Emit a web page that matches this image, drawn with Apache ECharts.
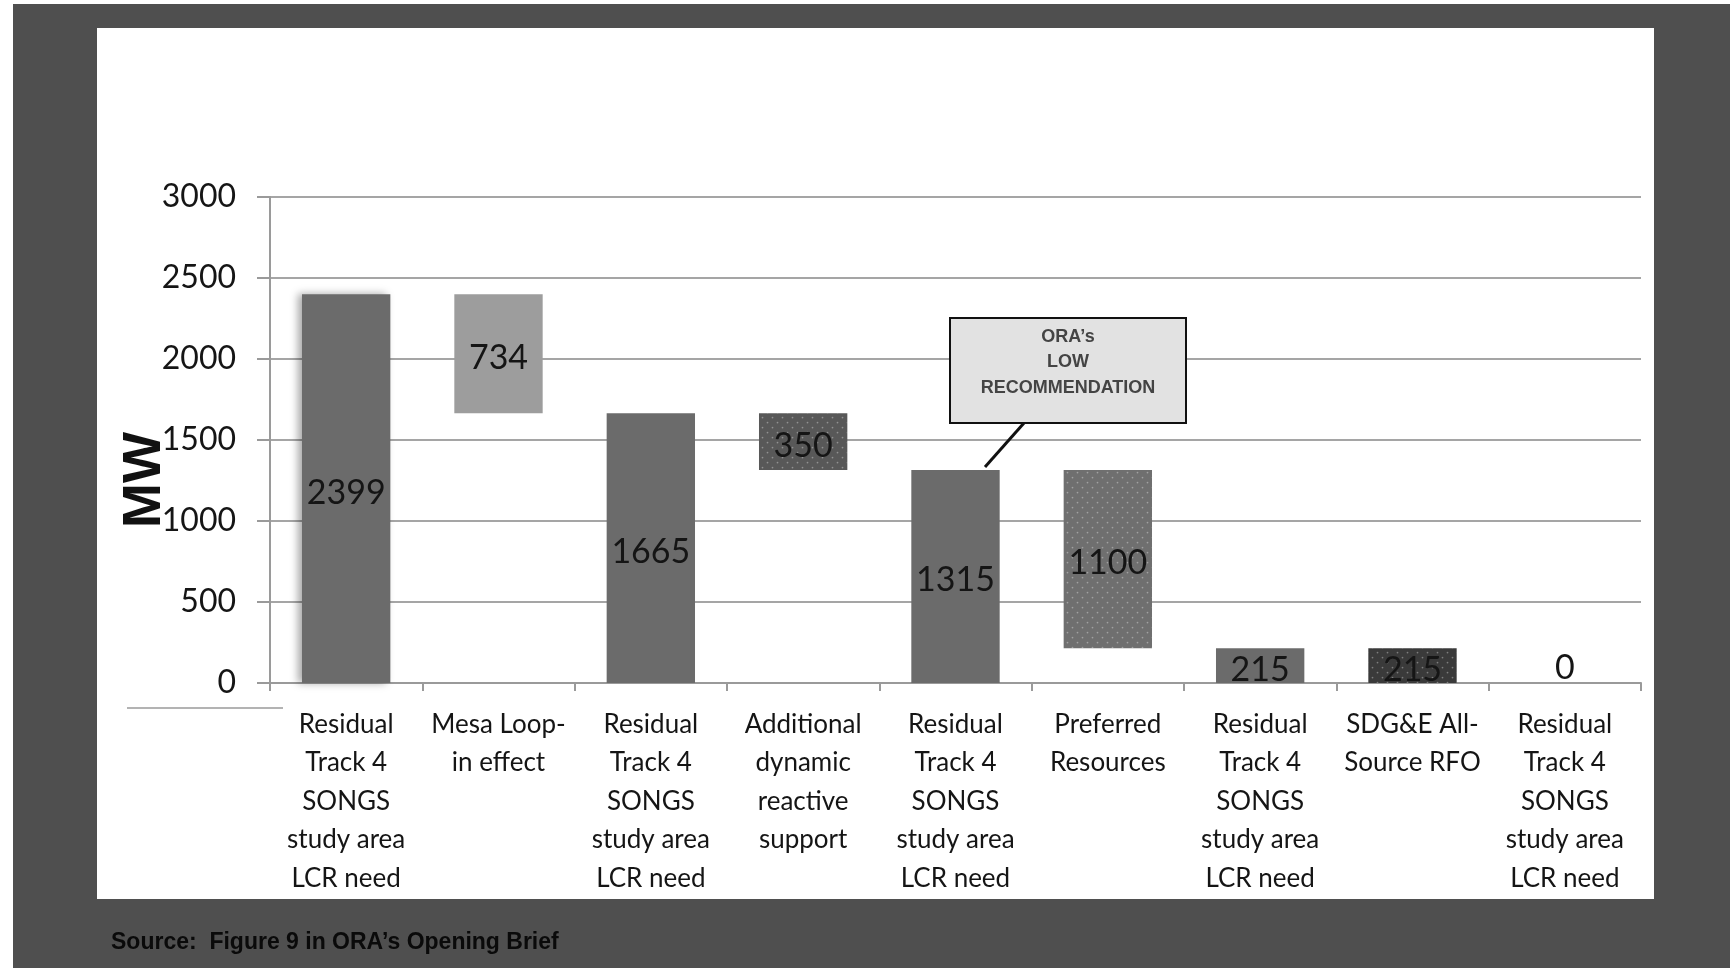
<!DOCTYPE html>
<html>
<head>
<meta charset="utf-8">
<script src="https://cdn.jsdelivr.net/npm/echarts@6/dist/echarts.min.js"></script>
<style>
  html, body { margin:0; padding:0; width:1730px; height:968px; overflow:hidden; background:#ffffff; }
  #bg { position:absolute; left:13px; top:4px; width:1717px; height:964px; background:#4f4f4f; }
  #panel { position:absolute; left:97px; top:28px; width:1557px; height:871px; background:#ffffff; }
  #chart { position:absolute; left:0; top:0; width:1730px; height:968px; }
</style>
</head>
<body>
<div id="bg"></div>
<div id="panel"></div>
<div id="chart"></div>
<script>
// ---- data ----
const categories = [
  "Residual\nTrack 4\nSONGS\nstudy area\nLCR need",
  "Mesa Loop-\nin effect",
  "Residual\nTrack 4\nSONGS\nstudy area\nLCR need",
  "Additional\ndynamic\nreactive\nsupport",
  "Residual\nTrack 4\nSONGS\nstudy area\nLCR need",
  "Preferred\nResources",
  "Residual\nTrack 4\nSONGS\nstudy area\nLCR need",
  "SDG&E All-\nSource RFO",
  "Residual\nTrack 4\nSONGS\nstudy area\nLCR need"
];
const values = [2399, 734, 1665, 350, 1315, 1100, 215, 215, 0];
const bases  = [0, 1665, 0, 1315, 0, 215, 0, 0, 0];
const yTicks = [0, 500, 1000, 1500, 2000, 2500, 3000];
const axisTitle = "MW";
const calloutLines = ["ORA\u2019s", "LOW", "RECOMMENDATION"];
const sourceText = "Source:  Figure 9 in ORA\u2019s Opening Brief";

// ---- styles ----
const barColors = ['#6b6b6b', '#9d9d9d', '#6b6b6b', '#585858', '#6b6b6b', '#6f6f6f', '#6b6b6b', '#3a3a3a', '#6b6b6b'];
const dotted = [false, false, false, true, false, true, false, true, false];

const chart = echarts.init(document.getElementById('chart'), null, {renderer: 'canvas'});

const valueData = values.map((v, i) => {
  const item = {
    value: v,
    itemStyle: { color: barColors[i] },
    label: v === 0 ? { position: 'top', distance: -2, offset: [0, 0] } : { position: 'inside', offset: [0, 4] }
  };
  if (dotted[i]) {
    item.itemStyle.decal = {
      symbol: 'circle', symbolSize: 0.35,
      color: 'rgba(255,255,255,0.35)',
      dashArrayX: [[5, 5], [0, 5, 5, 0]], dashArrayY: [5, 0], rotation: 0
    };
  }
  if (i === 0) {
    item.itemStyle.shadowColor = 'rgba(0,0,0,0.35)';
    item.itemStyle.shadowBlur = 8;
    item.itemStyle.shadowOffsetX = -4;
  }
  return item;
});

const option = {
  backgroundColor: 'transparent',
  animation: false,
  grid: { left: 270, right: 89, top: 197, bottom: 285, containLabel: false },
  xAxis: {
    type: 'category',
    data: categories,
    axisLine: { show: true, lineStyle: { color: '#9a9a9a', width: 2 } },
    axisTick: { show: true, length: 8, alignWithLabel: false, lineStyle: { color: '#9a9a9a', width: 2 } },
    axisLabel: {
      interval: 0, margin: 22, color: '#151515',
      fontFamily: 'Lato', fontSize: 26, lineHeight: 38.5
    }
  },
  yAxis: {
    type: 'value',
    min: yTicks[0], max: yTicks[yTicks.length - 1], interval: 500,
    axisLine: { show: true, lineStyle: { color: '#9a9a9a', width: 2 } },
    axisTick: { show: true, length: 13, lineStyle: { color: '#9a9a9a', width: 2 } },
    splitLine: { show: true, lineStyle: { color: '#a5a5a5', width: 2 } },
    axisLabel: { margin: 34, color: '#151515', fontFamily: 'Lato', fontSize: 32, padding: [6, 0, 0, 0], formatter: v => String(v) }
  },
  series: [
    {
      type: 'bar', stack: 'w', data: bases, barWidth: '58%',
      itemStyle: { color: 'transparent' }, silent: true,
      label: { show: false }
    },
    {
      type: 'bar', stack: 'w', data: valueData, barWidth: '58%',
      label: {
        show: true, color: '#151515', fontFamily: 'Lato', fontSize: 34,
        formatter: p => String(p.value)
      }
    }
  ],
  graphic: [
    {
      type: 'text', x: 145, y: 480, rotation: Math.PI / 2, z: 100,
      style: { text: axisTitle, font: 'bold 54px "Liberation Sans", Arial, sans-serif', fill: '#111', textAlign: 'center', textVerticalAlign: 'middle' }
    },
    {
      type: 'line', z: 100,
      shape: { x1: 127, y1: 708, x2: 283, y2: 708 },
      style: { stroke: '#9a9a9a', lineWidth: 1.5 }
    },
    {
      type: 'rect', z: 100,
      shape: { x: 950, y: 318, width: 236, height: 105 },
      style: { fill: '#e2e2e2', stroke: '#111', lineWidth: 2 }
    },
    {
      type: 'line', z: 100,
      shape: { x1: 1024, y1: 423, x2: 985, y2: 467 },
      style: { stroke: '#111', lineWidth: 3 }
    },
    {
      type: 'text', x: 1068, y: 337, z: 101,
      style: { text: calloutLines[0], font: 'bold 18px "Liberation Sans", Arial, sans-serif', fill: '#444', textAlign: 'center', textVerticalAlign: 'middle' }
    },
    {
      type: 'text', x: 1068, y: 362, z: 101,
      style: { text: calloutLines[1], font: 'bold 18px "Liberation Sans", Arial, sans-serif', fill: '#444', textAlign: 'center', textVerticalAlign: 'middle' }
    },
    {
      type: 'text', x: 1068, y: 388, z: 101,
      style: { text: calloutLines[2], font: 'bold 18px "Liberation Sans", Arial, sans-serif', fill: '#444', textAlign: 'center', textVerticalAlign: 'middle' }
    },
    {
      type: 'text', x: 111, y: 943, z: 101,
      style: { text: sourceText, font: 'bold 23px "Liberation Sans", Arial, sans-serif', fill: '#0a0a0a', textAlign: 'left', textVerticalAlign: 'middle' }
    }
  ]
};
chart.setOption(option);
</script>
</body>
</html>
